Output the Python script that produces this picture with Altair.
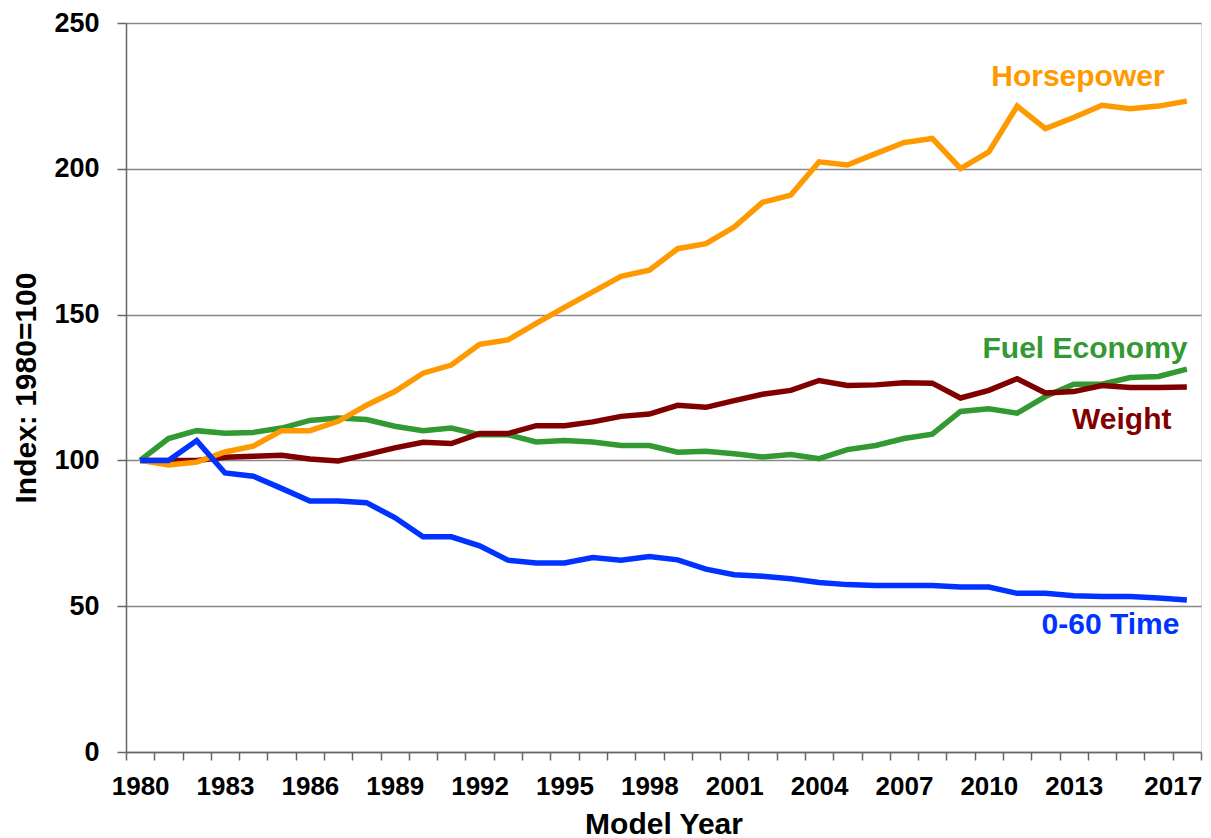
import altair as alt
import pandas as pd

years = list(range(1980, 2018))

horsepower = [100, 98.4, 99.4, 102.9, 104.9, 110.2, 110.2, 113.4, 118.9, 123.6,
              129.9, 132.7, 139.8, 141.3, 147.0, 152.5, 157.8, 163.1, 165.2, 172.6,
              174.3, 180.0, 188.5, 191.0, 202.4, 201.3, 205.2, 209.0, 210.4, 200.1,
              205.8, 221.5, 213.8, 217.6, 221.8, 220.6, 221.5, 223.2]
fuel_economy = [100, 107.5, 110.2, 109.3, 109.6, 111.1, 113.7, 114.5, 114.0, 111.7,
                110.2, 111.1, 108.8, 108.8, 106.3, 106.8, 106.3, 105.1, 105.1, 102.8,
                103.1, 102.3, 101.2, 102.0, 100.6, 103.7, 105.1, 107.5, 109.0, 116.8,
                117.7, 116.2, 121.9, 126.1, 126.1, 128.4, 128.8, 131.3]
weight = [100, 100, 100, 101.1, 101.4, 101.8, 100.5, 99.8, 102.0, 104.3,
          106.2, 105.8, 109.2, 109.2, 111.9, 111.9, 113.2, 115.1, 115.9, 118.9,
          118.2, 120.5, 122.7, 124.0, 127.4, 125.7, 125.9, 126.6, 126.5, 121.4,
          124.0, 128.0, 123.1, 123.6, 125.7, 125.0, 125.0, 125.2]
zero_sixty = [100, 100, 106.8, 95.7, 94.6, 90.4, 86.1, 86.1, 85.5, 80.4,
              73.8, 73.8, 70.7, 65.8, 64.8, 64.8, 66.7, 65.8, 67.0, 65.9,
              62.7, 60.8, 60.3, 59.4, 58.1, 57.4, 57.1, 57.1, 57.1, 56.6,
              56.6, 54.4, 54.4, 53.6, 53.3, 53.3, 52.8, 52.1]

series_names = ["Fuel Economy", "Weight", "Horsepower", "0-60 Time"]
series_values = [fuel_economy, weight, horsepower, zero_sixty]
series_colors = ["#339933", "#800000", "#FF9900", "#0033FF"]

label_texts = ["Horsepower", "Fuel Economy", "Weight", "0-60 Time"]
label_years = [2013.15, 2013.4, 2014.7, 2014.3]
label_values = [228.5, 135.2, 110.7, 40.6]
label_colors = ["#FF9900", "#339933", "#800000", "#0033FF"]

tick_label_years = [1980, 1983, 1986, 1989, 1992, 1995, 1998, 2001, 2004, 2007, 2010, 2013, 2017]
boundaries = [y - 0.5 for y in years] + [years[-1] + 0.5]

FONT = "Liberation Sans"

label_list = ",".join(str(v) for v in tick_label_years)
x_scale = alt.Scale(domain=[1979.5, 2017.5], nice=False, zero=False)
y_scale = alt.Scale(domain=[0, 250], nice=False)

x_axis = alt.Axis(
    title="Model Year", values=boundaries, grid=False,
    labelExpr=f"indexof([{label_list}], datum.value + 0.5) >= 0 ? toString(datum.value + 0.5) : ''",
    labelOffset={"condition": {"test": "datum.value == 2016.5", "value": 0}, "value": 14.15},
    labelOverlap=False, labelFlush=False, labelBound=False,
    tickSize=8, tickColor="#666", tickWidth=1.5,
    domainColor="#666", domainWidth=1.5,
    labelFont=FONT, labelFontSize=26, labelFontWeight="bold", labelColor="#000",
    labelPadding=13,
    titleFont=FONT, titleFontSize=30, titleFontWeight="bold", titleColor="#000",
    titlePadding=10,
)
y_axis = alt.Axis(
    title="Index: 1980=100", values=[0, 50, 100, 150, 200, 250], grid=True,
    gridColor="#888", gridWidth=1.5,
    tickSize=9, tickColor="#666", tickWidth=1.5,
    domainColor="#666", domainWidth=1.5,
    labelFont=FONT, labelFontSize=27, labelFontWeight="bold", labelColor="#000",
    labelPadding=18,
    titleFont=FONT, titleFontSize=30, titleFontWeight="bold", titleColor="#000",
    titlePadding=12,
)

X = alt.X("year:Q", scale=x_scale, axis=x_axis)
Y = alt.Y("value:Q", scale=y_scale, axis=y_axis)

layers = []
for name, vals, col in zip(series_names, series_values, series_colors):
    df = pd.DataFrame({"year": years, "value": vals, "series": name})
    layers.append(
        alt.Chart(df).mark_line(color=col, strokeWidth=5.5, strokeJoin="miter", strokeCap="butt").encode(x=X, y=Y)
    )

labels_df = pd.DataFrame({"text": label_texts, "year": label_years,
                          "value": label_values, "color": label_colors})
labels = alt.Chart(labels_df).mark_text(
    font=FONT, fontSize=30, fontWeight="bold", align="center", baseline="alphabetic"
).encode(
    x=X,
    y=Y,
    text="text:N",
    color=alt.Color("color:N", scale=None),
)

chart = alt.layer(*layers, labels).properties(
    width=1075, height=729,
    autosize=alt.AutoSizeParams(type="none"),
    padding={"left": 118, "top": 15, "right": 2, "bottom": 86},
).configure_view(stroke="#888", strokeWidth=1.5).configure(background="white")

chart.save("out.html", embed_options={"renderer": "svg", "actions": False})
